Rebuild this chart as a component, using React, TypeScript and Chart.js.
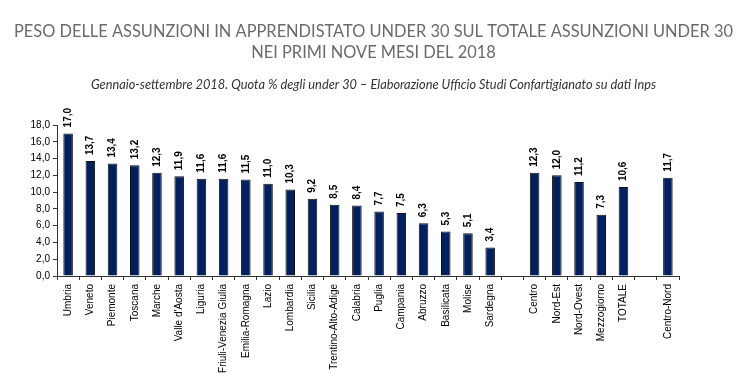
import React, { useEffect, useRef } from 'react';
import { Chart, registerables } from 'chart.js';

Chart.register(...registerables);

const titleLines = [
  'PESO DELLE ASSUNZIONI IN APPRENDISTATO UNDER 30 SUL TOTALE ASSUNZIONI UNDER 30',
  'NEI PRIMI NOVE MESI DEL 2018',
];
const subtitleText =
  'Gennaio-settembre 2018. Quota % degli under 30 \u2013 Elaborazione Ufficio Studi Confartigianato su dati Inps';

const categories = [
  'Umbria', 'Veneto', 'Piemonte', 'Toscana', 'Marche', "Valle d'Aosta", 'Liguria',
  'Friuli-Venezia Giulia', 'Emilia-Romagna', 'Lazio', 'Lombardia', 'Sicilia',
  'Trentino-Alto-Adige', 'Calabria', 'Puglia', 'Campania', 'Abruzzo', 'Basilicata',
  'Molise', 'Sardegna', '', 'Centro', 'Nord-Est', 'Nord-Ovest', 'Mezzogiorno', 'TOTALE',
  '', 'Centro-Nord',
];
const values: (number | null)[] = [
  17.0, 13.7, 13.4, 13.2, 12.3, 11.9, 11.6, 11.6, 11.5, 11.0, 10.3, 9.2, 8.5, 8.4, 7.7,
  7.5, 6.3, 5.3, 5.1, 3.4, null, 12.3, 12.0, 11.2, 7.3, 10.6, null, 11.7,
];
const yMin = 0;
const yMax = 18;
const yStep = 2;

const fmt = (v: number) => v.toFixed(1).replace('.', ',');

const valueLabels = {
  id: 'valueLabels',
  afterDatasetsDraw(chart: any) {
    const ctx = chart.ctx;
    const meta = chart.getDatasetMeta(0);
    ctx.save();
    ctx.font = 'bold 10px "Liberation Sans", Arial, sans-serif';
    ctx.fillStyle = '#000';
    ctx.textAlign = 'left';
    ctx.textBaseline = 'middle';
    meta.data.forEach((el: any, i: number) => {
      const v = values[i];
      if (v == null) return;
      ctx.save();
      ctx.translate(el.x, el.y - 6);
      ctx.rotate(-Math.PI / 2);
      ctx.fillText(fmt(v), 0, 0);
      ctx.restore();
    });
    ctx.restore();
  },
};

export default function App() {
  const ref = useRef<HTMLCanvasElement | null>(null);
  useEffect(() => {
    if (!ref.current) return;
    const chart = new Chart(ref.current, {
      type: 'bar',
      data: {
        labels: categories,
        datasets: [
          {
            data: values as any,
            backgroundColor: '#02205e',
            borderColor: '#111',
            borderWidth: 1,
            categoryPercentage: 1,
            barPercentage: 0.43,
          },
        ],
      },
      options: {
        animation: false,
        responsive: false,
        devicePixelRatio: 1,
        layout: { padding: 0 },
        plugins: {
          legend: { display: false },
          tooltip: { enabled: false },
          title: {
            display: true,
            text: titleLines,
            color: '#6a6a6a',
            font: { family: 'Lato', size: 16.4, weight: 'normal', lineHeight: 21 / 16.4 },
            padding: { top: 21, bottom: 8 },
          },
          subtitle: {
            display: true,
            text: subtitleText,
            color: '#333',
            font: { family: 'Lato', size: 12.8, style: 'italic', lineHeight: 15 / 12.8 },
            padding: { top: 6, bottom: 33 },
          },
        },
        scales: {
          x: {
            offset: true,
            grid: {
              display: true,
              offset: true,
              drawOnChartArea: false,
              drawTicks: true,
              tickLength: 4,
              color: '#333',
            },
            border: { display: true, color: '#333' },
            ticks: {
              autoSkip: false,
              minRotation: 90,
              maxRotation: 90,
              padding: 4,
              color: '#000',
              font: { family: '"Liberation Sans", Arial, sans-serif', size: 10 },
            },
            afterFit(s: any) {
              s.height = 112;
            },
          },
          y: {
            min: yMin,
            max: yMax,
            grid: {
              display: true,
              drawOnChartArea: false,
              drawTicks: true,
              tickLength: 4,
              color: '#333',
            },
            border: { display: true, color: '#333' },
            ticks: {
              stepSize: yStep,
              padding: 3,
              color: '#000',
              font: { family: '"Liberation Sans", Arial, sans-serif', size: 10 },
              callback: (v: any) => fmt(Number(v)),
            },
            afterFit(s: any) {
              s.width = 57;
            },
          },
          y2: {
            position: 'right',
            display: true,
            grid: { display: false },
            border: { display: false },
            ticks: { display: false },
            afterFit(s: any) {
              s.width = 68;
            },
          },
        },
      },
      plugins: [valueLabels],
    } as any);
    return () => chart.destroy();
  }, []);
  return (
    <div style={{ position: 'fixed', left: 0, top: 0, width: 747, height: 388, background: '#fff' }}>
      <canvas ref={ref} width={747} height={388} />
    </div>
  );
}
